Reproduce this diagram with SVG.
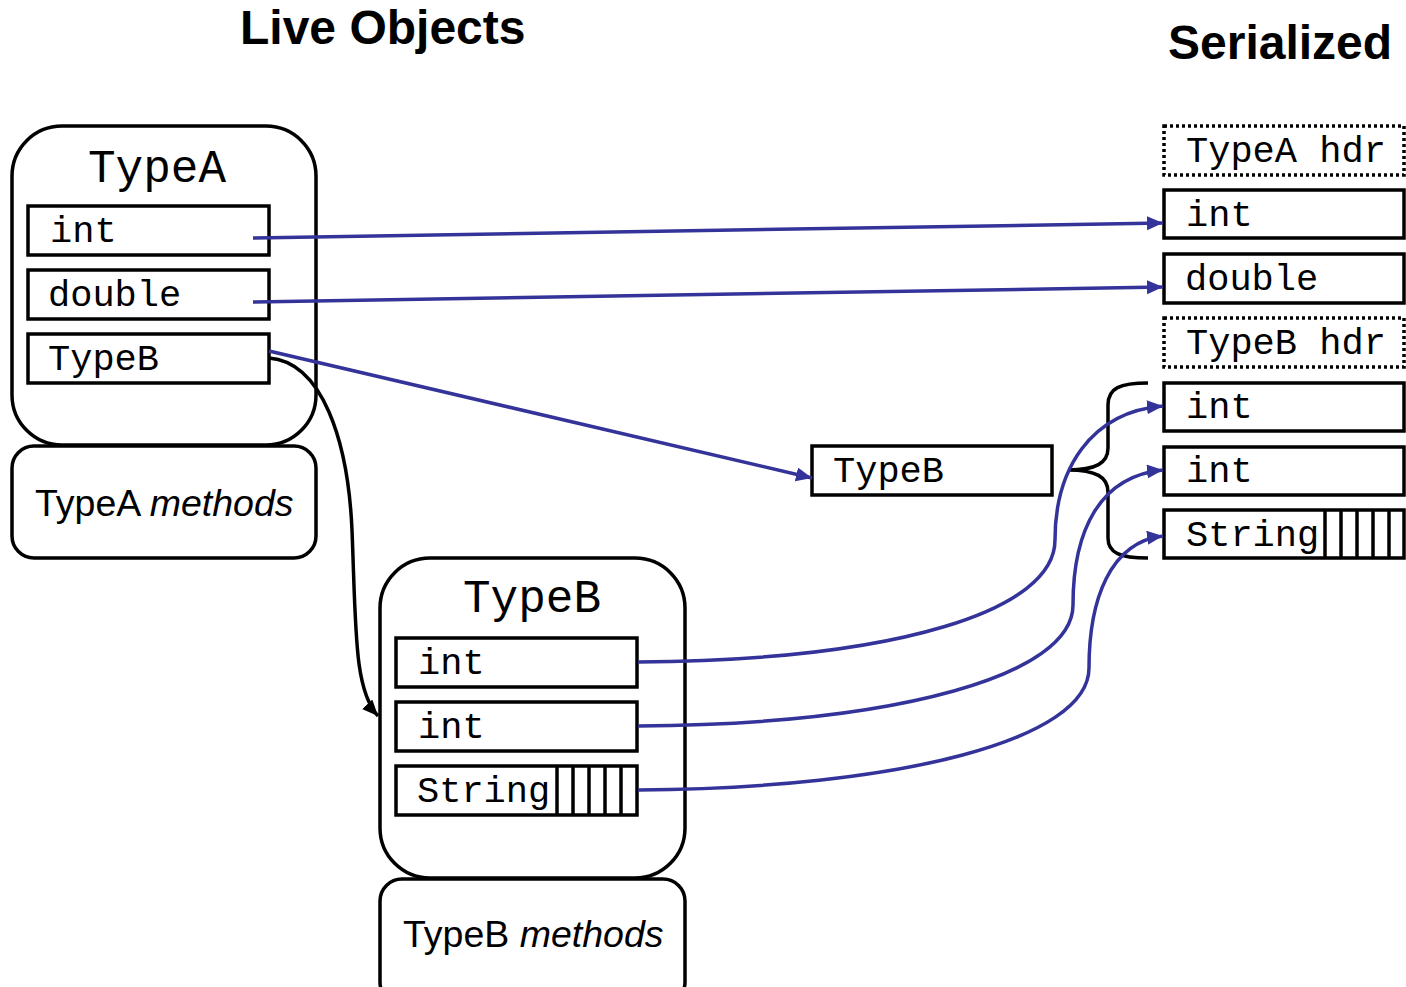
<svg xmlns="http://www.w3.org/2000/svg" width="1406" height="987" viewBox="0 0 1406 987">
  <style>
    .title { font-family: "Liberation Sans", Arial, sans-serif; font-weight: bold; font-size: 48px; fill: #000; }
    .mono { font-family: "Liberation Mono", "Courier New", monospace; font-size: 37px; fill: #000; }
    .mono-big { font-family: "Liberation Mono", "Courier New", monospace; font-size: 46px; fill: #000; }
    .sans { font-family: "Liberation Sans", Arial, sans-serif; font-size: 37.5px; fill: #000; }
    .obj { fill: #fff; stroke: #000; stroke-width: 3.5; }
    .field { fill: #fff; stroke: #000; stroke-width: 3.5; }
    .hdr { fill: #fff; stroke: #000; stroke-width: 3.5; stroke-dasharray: 3 3; }
    .hatch { stroke: #000; stroke-width: 3.5; }
    .link { fill: none; stroke: #333399; stroke-width: 3.5; }
    .ref { fill: none; stroke: #000; stroke-width: 3.5; }
    .brace { fill: none; stroke: #000; stroke-width: 3.5; }
  </style>
  <defs>
    <marker id="arrow-blue" markerUnits="userSpaceOnUse" markerWidth="17" markerHeight="15" refX="16" refY="7" orient="auto">
      <path d="M0,0 L16,7 L0,14 z" fill="#333399"/>
    </marker>
    <marker id="arrow-black" markerUnits="userSpaceOnUse" markerWidth="17" markerHeight="15" refX="16" refY="7" orient="auto">
      <path d="M0,0 L16,7 L0,14 z" fill="#000"/>
    </marker>
  </defs>

  <!-- headings -->
  <text class="title" x="240" y="44">Live Objects</text>
  <text class="title" x="1168" y="59">Serialized</text>

  <!-- live object: TypeA -->
  <g id="typeA">
    <rect class="obj" x="12" y="126" width="304" height="319" rx="50" ry="50"/>
    <text class="mono-big" x="157" y="182" text-anchor="middle">TypeA</text>
    <rect class="field" x="28" y="206" width="241" height="49"/>
    <text class="mono" x="50" y="242">int</text>
    <rect class="field" x="28" y="270" width="241" height="49"/>
    <text class="mono" x="48" y="306">double</text>
    <rect class="field" x="28" y="334" width="241" height="49"/>
    <text class="mono" x="48" y="370">TypeB</text>
  </g>
  <g id="typeA-methods">
    <rect class="obj" x="12" y="446" width="304" height="112" rx="22" ry="22"/>
    <text class="sans" x="35" y="516">TypeA <tspan font-style="italic">methods</tspan></text>
  </g>

  <!-- live object: TypeB -->
  <g id="typeB">
    <rect class="obj" x="380" y="558" width="305" height="320" rx="50" ry="50"/>
    <text class="mono-big" x="532" y="612" text-anchor="middle">TypeB</text>
    <rect class="field" x="396" y="638" width="241" height="49"/>
    <text class="mono" x="418" y="674">int</text>
    <rect class="field" x="396" y="702" width="241" height="49"/>
    <text class="mono" x="418" y="738">int</text>
    <rect class="field" x="396" y="766" width="241" height="49"/>
    <text class="mono" x="417" y="802">String</text>
    <line class="hatch" x1="557" y1="766" x2="557" y2="815"/>
    <line class="hatch" x1="573" y1="766" x2="573" y2="815"/>
    <line class="hatch" x1="589" y1="766" x2="589" y2="815"/>
    <line class="hatch" x1="605" y1="766" x2="605" y2="815"/>
    <line class="hatch" x1="621" y1="766" x2="621" y2="815"/>
  </g>
  <g id="typeB-methods">
    <rect class="obj" x="380" y="879" width="305" height="125" rx="22" ry="22"/>
    <text class="sans" x="403" y="947">TypeB <tspan font-style="italic">methods</tspan></text>
  </g>

  <!-- reference field in the stream -->
  <g id="typeB-ref">
    <rect class="field" x="812" y="446" width="240" height="49"/>
    <text class="mono" x="833" y="482">TypeB</text>
  </g>

  <!-- serialized stream -->
  <g id="stream">
    <rect class="hdr" x="1164" y="126" width="240" height="49"/>
    <text class="mono" x="1186" y="162">TypeA hdr</text>
    <rect class="field" x="1164" y="190" width="240" height="48"/>
    <text class="mono" x="1186" y="226">int</text>
    <rect class="field" x="1164" y="254" width="240" height="49"/>
    <text class="mono" x="1185" y="290">double</text>
    <rect class="hdr" x="1164" y="318" width="240" height="49"/>
    <text class="mono" x="1186" y="354">TypeB hdr</text>
    <rect class="field" x="1164" y="383" width="240" height="48"/>
    <text class="mono" x="1186" y="418">int</text>
    <rect class="field" x="1164" y="447" width="240" height="48"/>
    <text class="mono" x="1186" y="482">int</text>
    <rect class="field" x="1164" y="510" width="240" height="48"/>
    <text class="mono" x="1186" y="546">String</text>
    <line class="hatch" x1="1325" y1="510" x2="1325" y2="558"/>
    <line class="hatch" x1="1341" y1="510" x2="1341" y2="558"/>
    <line class="hatch" x1="1357" y1="510" x2="1357" y2="558"/>
    <line class="hatch" x1="1373" y1="510" x2="1373" y2="558"/>
    <line class="hatch" x1="1389" y1="510" x2="1389" y2="558"/>
  </g>

  <!-- brace grouping the TypeB fields -->
  <g id="brace">
    <path class="brace" d="M1148,383 C1120,383 1108,388 1108,405 L1108,448 C1108,463 1096,470 1068,470 C1096,470 1108,477 1108,492 L1108,538 C1108,553 1120,558 1148,558"/>
  </g>

  <!-- connectors -->
  <g id="connectors">
    <line class="link" x1="253" y1="238" x2="1163" y2="223" marker-end="url(#arrow-blue)"/>
    <line class="link" x1="253" y1="302" x2="1163" y2="287" marker-end="url(#arrow-blue)"/>
    <line class="link" x1="269" y1="351" x2="812" y2="478" marker-end="url(#arrow-blue)"/>
    <path class="ref" d="M269,358 C322,362 348,440 352,530 C356,630 354,690 378,716" marker-end="url(#arrow-black)"/>
    <path class="link" d="M638,662 C900,660 1055,610 1055,540 C1055,470 1090,412 1163,406" marker-end="url(#arrow-blue)"/>
    <path class="link" d="M638,726 C900,724 1073,675 1073,605 C1073,530 1100,476 1163,470" marker-end="url(#arrow-blue)"/>
    <path class="link" d="M638,790 C900,788 1089,740 1089,668 C1089,600 1110,542 1163,536" marker-end="url(#arrow-blue)"/>
  </g>
</svg>
